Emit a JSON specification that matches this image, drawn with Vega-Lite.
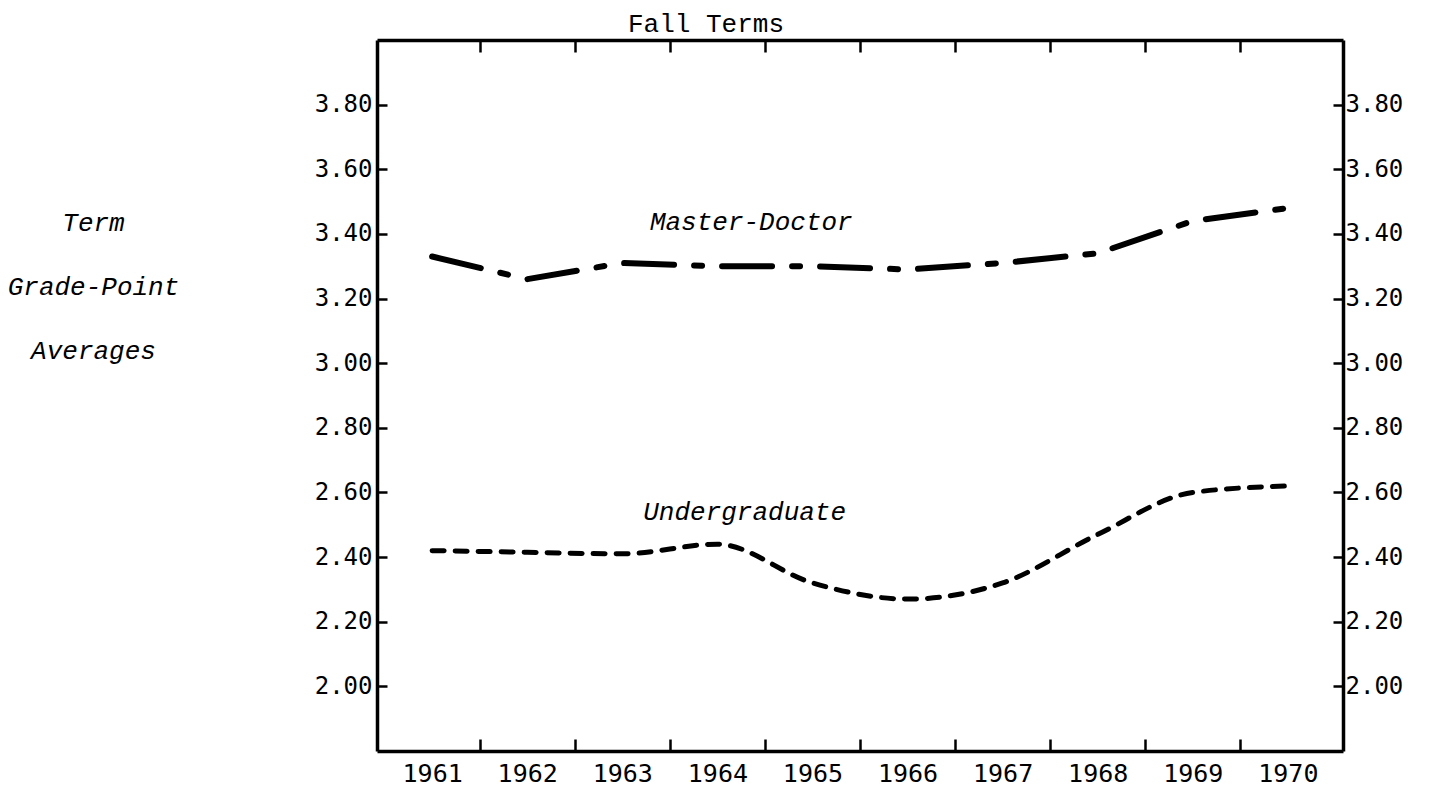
{
  "$schema": "https://vega.github.io/schema/vega-lite/v6.json",
  "width": 966,
  "height": 711,
  "autosize": "none",
  "padding": {"left": 377, "top": 40, "right": 101, "bottom": 40},
  "background": "white",
  "config": {
    "view": {"stroke": null},
    "axis": {"grid": false, "domainColor": "black", "domainWidth": 3.5, "tickColor": "black", "tickWidth": 2.5, "labelColor": "black", "labelFont": "DejaVu Sans Mono", "labelOverlap": false, "labelFlush": false}
  },
  "title": {"text": "Fall Terms", "anchor": "start", "frame": "group", "dx": 251, "dy": 30, "font": "Liberation Mono", "fontSize": 26, "fontWeight": "normal", "color": "black", "baseline": "alphabetic", "offset": 11},
  "datasets": {
    "gpa": [
      {"series": "Master-Doctor", "year": 1961, "gpa": 3.33},
      {"series": "Master-Doctor", "year": 1962, "gpa": 3.26},
      {"series": "Master-Doctor", "year": 1963, "gpa": 3.31},
      {"series": "Master-Doctor", "year": 1964, "gpa": 3.30},
      {"series": "Master-Doctor", "year": 1965, "gpa": 3.30},
      {"series": "Master-Doctor", "year": 1966, "gpa": 3.29},
      {"series": "Master-Doctor", "year": 1967, "gpa": 3.31},
      {"series": "Master-Doctor", "year": 1968, "gpa": 3.34},
      {"series": "Master-Doctor", "year": 1969, "gpa": 3.44},
      {"series": "Master-Doctor", "year": 1970, "gpa": 3.48},
      {"series": "Undergraduate", "year": 1961, "gpa": 2.42},
      {"series": "Undergraduate", "year": 1962, "gpa": 2.415},
      {"series": "Undergraduate", "year": 1963, "gpa": 2.41},
      {"series": "Undergraduate", "year": 1964, "gpa": 2.44},
      {"series": "Undergraduate", "year": 1965, "gpa": 2.32},
      {"series": "Undergraduate", "year": 1966, "gpa": 2.27},
      {"series": "Undergraduate", "year": 1967, "gpa": 2.32},
      {"series": "Undergraduate", "year": 1968, "gpa": 2.47},
      {"series": "Undergraduate", "year": 1969, "gpa": 2.60},
      {"series": "Undergraduate", "year": 1970, "gpa": 2.62}
    ],
    "labels": [
      {"label": "Master-Doctor", "year": 1963.29, "gpa": 3.412},
      {"label": "Undergraduate", "year": 1963.22, "gpa": 2.515}
    ]
  },
  "layer": [
    {
      "data": {"name": "gpa"},
      "transform": [{"filter": "datum.series == 'Master-Doctor'"}],
      "mark": {"type": "line", "color": "black", "strokeWidth": 6, "strokeDash": [50, 20, 8, 20], "strokeCap": "round"},
      "encoding": {
        "x": {"field": "year", "type": "quantitative", "scale": {"domain": [1960.42, 1970.58], "nice": false, "zero": false},
          "axis": {"orient": "bottom", "title": null,
            "values": [1961, 1961.5, 1962, 1962.5, 1963, 1963.5, 1964, 1964.5, 1965, 1965.5, 1966, 1966.5, 1967, 1967.5, 1968, 1968.5, 1969, 1969.5, 1970],
            "labelExpr": "datum.value % 1 == 0 ? format(datum.value, 'd') : ''",
            "tickOpacity": {"condition": {"test": "datum.value % 1 != 0", "value": 1}, "value": 0},
            "tickSize": -12, "labelFontSize": 25, "labelPadding": 22}},
        "y": {"field": "gpa", "type": "quantitative", "scale": {"domain": [1.8, 4.0], "nice": false, "zero": false},
          "axis": {"orient": "left",
            "values": [2.0, 2.2, 2.4, 2.6, 2.8, 3.0, 3.2, 3.4, 3.6, 3.8], "format": ".2f",
            "tickSize": -10, "labelFontSize": 24, "labelPadding": 15,
            "title": ["Term", "Grade-Point", "Averages"], "titleAngle": 0, "titleAlign": "center", "titleBaseline": "alphabetic",
            "titleX": -284, "titleY": 190, "titleLineHeight": 64, "titleFont": "Liberation Mono", "titleFontStyle": "italic", "titleFontWeight": "normal", "titleFontSize": 26, "titleColor": "black"}}
      }
    },
    {
      "data": {"name": "gpa"},
      "transform": [{"filter": "datum.series == 'Undergraduate'"}],
      "mark": {"type": "line", "color": "black", "strokeWidth": 5, "strokeDash": [12, 11], "strokeCap": "round", "interpolate": "monotone"},
      "encoding": {
        "x": {"field": "year", "type": "quantitative", "scale": {"domain": [1960.42, 1970.58], "nice": false, "zero": false}, "axis": null},
        "y": {"field": "gpa", "type": "quantitative", "scale": {"domain": [1.8, 4.0], "nice": false, "zero": false}, "axis": null}
      }
    },
    {
      "data": {"name": "labels"},
      "mark": {"type": "text", "align": "left", "baseline": "alphabetic", "font": "Liberation Mono", "fontStyle": "italic", "fontSize": 26, "color": "black"},
      "encoding": {
        "x": {"field": "year", "type": "quantitative", "scale": {"domain": [1960.42, 1970.58], "nice": false, "zero": false},
          "axis": {"orient": "top", "title": null, "labels": false,
            "values": [1961.5, 1962.5, 1963.5, 1964.5, 1965.5, 1966.5, 1967.5, 1968.5, 1969.5],
            "tickSize": -12}},
        "y": {"field": "gpa", "type": "quantitative", "scale": {"domain": [1.8, 4.0], "nice": false, "zero": false},
          "axis": {"orient": "right", "title": null,
            "values": [2.0, 2.2, 2.4, 2.6, 2.8, 3.0, 3.2, 3.4, 3.6, 3.8], "format": ".2f",
            "tickSize": -10, "labelFontSize": 24, "labelPadding": 12}},
        "text": {"field": "label", "type": "nominal"}
      }
    }
  ],
  "resolve": {"axis": {"x": "independent", "y": "independent"}}
}
